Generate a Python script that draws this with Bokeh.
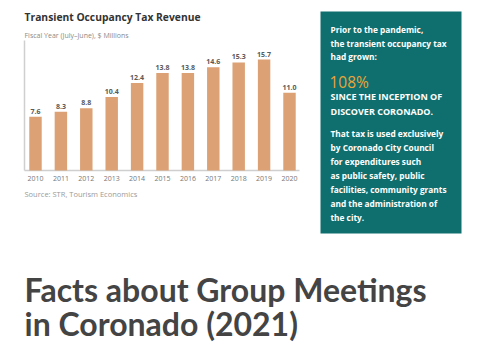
from bokeh.plotting import figure
from bokeh.models import Range1d
from bokeh.core.properties import value
from bokeh.embed import file_html
from bokeh.resources import INLINE

years = [2010, 2011, 2012, 2013, 2014, 2015, 2016, 2017, 2018, 2019, 2020]
revenue = [7.6, 8.3, 8.8, 10.4, 12.4, 13.8, 13.8, 14.6, 15.3, 15.7, 11.0]
rev_labels = [f"{v:.1f}" for v in revenue]
year_labels = [str(y) for y in years]

title = "Transient Occupancy Tax Revenue"
subtitle = "Fiscal Year (July\u2013June), $ Millions"
source_note = "Source: STR, Tourism Economics"
box_lines = ["Prior to the pandemic,", "the transient occupancy tax", "had grown:"]
big_stat = "108%"
caps_lines = ["SINCE THE INCEPTION OF", "DISCOVER CORONADO."]
body_lines = ["That tax is used exclusively", "by Coronado City Council",
              "for expenditures such", "as public safety, public",
              "facilities, community grants", "and the administration of",
              "the city."]
heading_lines = ["Facts about Group Meetings", "in Coronado (2021)"]

W, H = 485, 360
# chart area placement (pixels)
CL, CR, CT, CB = 24, 299, 40, 170
X0, X1 = 2009.567, 2020.394
YMAX = 18.4
sxs = (CR - CL) / (X1 - X0)
sys_ = (CB - CT) / YMAX

p = figure(width=W, height=H, output_backend="svg", toolbar_location=None,
           x_range=Range1d(0, W), y_range=Range1d(H, 0),
           x_axis_type=None, y_axis_type=None, min_border=0)
p.outline_line_color = None
p.background_fill_color = "white"
p.border_fill_color = "white"
p.grid.visible = False
p.extra_x_ranges = {"yr": Range1d(X0 - CL / sxs, X0 + (W - CL) / sxs)}
p.extra_y_ranges = {"val": Range1d(-(H - CB) / sys_, CB / sys_)}

# axis lines
p.segment(x0=[X0, X0], y0=[0, 0], x1=[X1, X0], y1=[0, YMAX],
          x_range_name="yr", y_range_name="val", line_color="#cfcfcf", line_width=1.5)

p.vbar(x=years, top=revenue, width=0.49, bottom=0, x_range_name="yr", y_range_name="val",
       color="#DCA275", line_color=None)
p.text(x=years, y=revenue, text=rev_labels, x_range_name="yr", y_range_name="val",
       text_align="center", text_baseline="bottom", y_offset=-3,
       text_font=value("Open Sans"), text_font_style="bold",
       text_font_size="7px", text_color="#5a5a5a")
p.text(x=years, y=[0] * len(years), text=year_labels, x_range_name="yr", y_range_name="val",
       text_align="center", text_baseline="middle", y_offset=8,
       text_font=value("Open Sans"), text_font_size="7px", text_color="#777777")


def lab(X, Y, text, size, color, font="Open Sans", bold=False, baseline="middle"):
    p.text(x=[X], y=[Y], text=[text], text_font=value(font), text_font_size=size,
           text_color=color, text_baseline=baseline,
           text_font_style="bold" if bold else "normal")


lab(24, 16, title, "10.3px", "#333333", bold=True)
lab(24, 35, subtitle, "7px", "#8a8a8a")
lab(24, 193, source_note, "7.5px", "#9a9a9a")

p.quad(left=[320], right=[461], top=[11], bottom=[233], fill_color="#0F6E6E",
       line_color=None)

for i, t in enumerate(box_lines):
    lab(330, 29 + 13.6 * i, t, "8.3px", "white", bold=True)
lab(329, 81, big_stat, "15.5px", "#E9A53A")
for i, t in enumerate(caps_lines):
    lab(330, 96 + 14.7 * i, t, "9px", "white", bold=True)
for i, t in enumerate(body_lines):
    lab(330, 133 + 14 * i, t, "8.3px", "white", bold=True)

for i, t in enumerate(heading_lines):
    lab(24, 289 + 33.5 * i, t, "32px", "#444444", font="Lato", bold=True)

open("out.html", "w").write(file_html(p, INLINE))
